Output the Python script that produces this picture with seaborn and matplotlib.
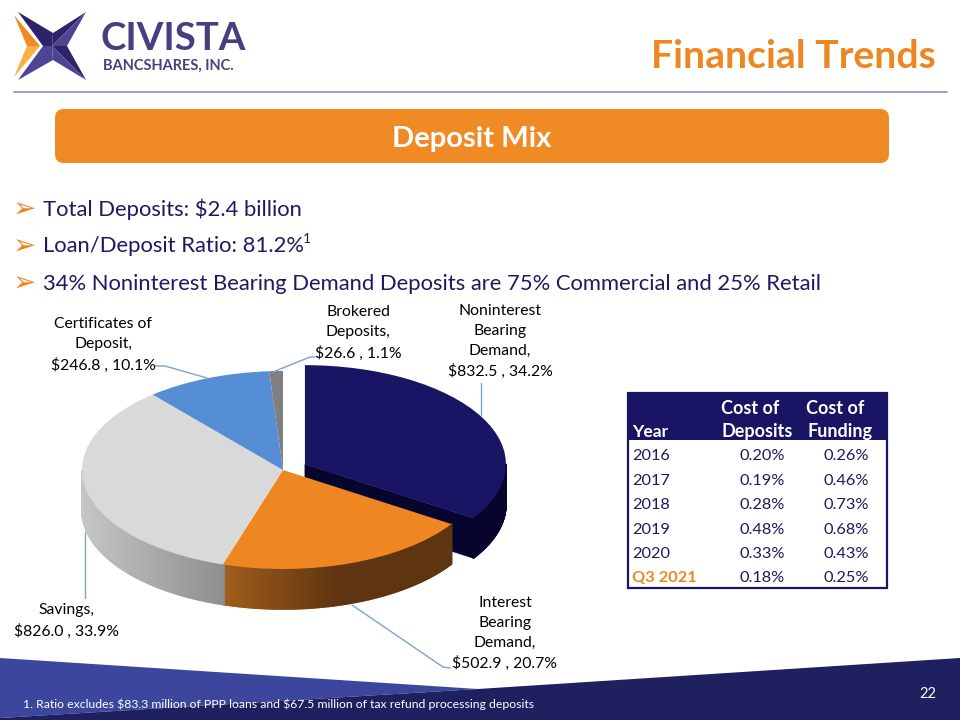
import numpy as np
import matplotlib
matplotlib.use("Agg")
import matplotlib.pyplot as plt
import seaborn as sns
from matplotlib.collections import PolyCollection
from matplotlib.patches import FancyBboxPatch, Polygon, Rectangle

# pie data ($ millions)
slice_names = ["Noninterest\nBearing\nDemand", "Interest\nBearing\nDemand", "Savings",
               "Certificates of\nDeposit", "Brokered\nDeposits"]
slice_values = [832.5, 502.9, 826.0, 246.8, 26.6]
slice_explode = [0.124, 0, 0, 0, 0]
slice_colors = ["#191464", "#ee8722", "#d9d9d9", "#558ed5", "#7f7f7f"]

# table data
table_years = ["2016", "2017", "2018", "2019", "2020", "Q3 2021"]
cost_deposits = ["0.20%", "0.19%", "0.28%", "0.48%", "0.33%", "0.18%"]
cost_funding = ["0.26%", "0.46%", "0.73%", "0.68%", "0.43%", "0.25%"]

bullets = ["Total Deposits: $2.4 billion", "Loan/Deposit Ratio: 81.2%",
           "34% Noninterest Bearing Demand Deposits are 75% Commercial and 25% Retail"]

navy = "#191464"
band = "#1f2060"
orange = "#ee8722"
text_blue = "#1c1a62"
leader = "#7fa3c7"

sns.set_theme(style="white")
plt.rcParams["font.family"] = ["Lato", "DejaVu Sans"]
palette = sns.color_palette(slice_colors)

fig = plt.figure(figsize=(9.6, 7.2), dpi=100, facecolor="white")

# page axes, one data unit = one pixel
ax = fig.add_axes([0, 0, 1, 1])
ax.set_xlim(0, 960)
ax.set_ylim(720, 0)
ax.axis("off")

###############################################
# LOGO + HEADER
###############################################
star_dark = "#2e2369"
star_mid = "#4d4594"
logo_parts = [
    ([(18, 12), (53, 33), (52, 46), (43, 46)], star_dark),
    ([(53, 33), (86, 12), (52, 46)], star_dark),
    ([(86, 12), (67, 46), (52, 46)], star_mid),
    ([(67, 46), (86, 80), (52, 46)], star_dark),
    ([(86, 80), (53, 60), (52, 46)], star_mid),
    ([(53, 60), (18, 80), (43, 46), (52, 46)], star_mid),
    ([(14, 15), (40, 46), (27, 46)], "#f08a24"),
    ([(27, 46), (40, 46), (14, 77)], "#fbb040"),
]
for pts, col in logo_parts:
    ax.add_patch(Polygon(pts, closed=True, facecolor=col, edgecolor="none"))
ax.text(100, 39, "CIVISTA", fontsize=27.6, fontweight="bold", color="#46407f", va="center", ha="left")
ax.text(103, 65.5, "BANCSHARES, INC.", fontsize=10.5, fontweight="bold", color="#46407f", va="center", ha="left")

ax.text(936, 57, "Financial Trends", fontsize=28.2, fontweight="bold", color=orange, va="center", ha="right")
ax.plot([14, 947], [92, 92], color="#8a90c0", lw=1.2)

ax.add_patch(FancyBboxPatch((55, 109), 834, 54, boxstyle="round,pad=0,rounding_size=9", mutation_scale=1,
                            facecolor="#f08a24", edgecolor="none"))
ax.text(472, 138.5, "Deposit Mix", fontsize=21, fontweight="bold", color="white", va="center", ha="center")

for i, line in enumerate(bullets):
    y = 209.5 + i * 37
    ax.text(13, y, "\u27a2", fontsize=20, color=orange, va="center", ha="left", family="DejaVu Sans")
    ax.text(43, y, line, fontsize=15.8, color=text_blue, va="center", ha="left", parse_math=False)
ax.text(303, 239, "1", fontsize=10, color=text_blue, va="center", ha="left")

###############################################
# FOOTER BAND
###############################################
ax.add_patch(Polygon([(0, 658), (478, 689), (0, 718)], closed=True, facecolor="#3c469c", edgecolor="none"))
ax.add_patch(Polygon([(0, 718), (478, 689), (960, 658), (960, 720), (0, 720)], closed=True,
                     facecolor=band, edgecolor="none"))
ax.text(23, 704, "1. Ratio excludes $83.3 million of PPP loans and $67.5 million of tax refund processing deposits",
        fontsize=8.85, color="white", va="center", ha="left", parse_math=False)
ax.text(928, 694, "22", fontsize=10.5, color="white", va="center", ha="center")

###############################################
# 3D LOOKING PIE
###############################################
# ellipse 201 x 99 px centred on (283, 470), wall 40 px high
pie_cx, pie_cy, rx, ry, wall_px = 283, 470, 201, 99, 40
wall = wall_px / ry
pax = fig.add_axes([0, 0, 1, 1], facecolor="none")
wedges, _ = pax.pie(slice_values, explode=slice_explode, colors=palette, startangle=90, counterclock=False,
                    wedgeprops={"linewidth": 0, "zorder": 5})
pax.set_aspect("auto")
pax.set_xlim(-pie_cx / rx, (960 - pie_cx) / rx)
pax.set_ylim((pie_cy - 720) / ry, pie_cy / ry)
pax.axis("off")


def wall_color(name, px):
    # px is the x position on the page, the side walls get darker to the right
    if name == 0:
        return matplotlib.colors.to_rgb("#07052e")
    if name == 1:
        t = np.clip((px - 223) / 117, 0, 1)
        a, b = "#a05e1c", "#5f3410"
    else:
        t = np.clip((px - 82) / 141, 0, 1)
        a, b = "#c6c6c6", "#8f8f8f"
    a, b = np.array(matplotlib.colors.to_rgb(a)), np.array(matplotlib.colors.to_rgb(b))
    return tuple(a + (b - a) * t)


for i, w in enumerate(wedges):
    cx, cy = w.center
    angles = np.radians(np.arange(w.theta1, w.theta2 + 0.5, 0.5))
    angles = angles[np.sin(angles) <= 0]
    if len(angles) < 2:
        continue
    xs = cx + np.cos(angles)
    ys = cy + np.sin(angles)
    quads = []
    cols = []
    for j in range(len(xs) - 1):
        quads.append([(xs[j], ys[j]), (xs[j + 1], ys[j + 1]), (xs[j + 1], ys[j + 1] - wall), (xs[j], ys[j] - wall)])
        cols.append(wall_color(i, pie_cx + xs[j] * rx))
    pax.add_collection(PolyCollection(quads, facecolors=cols, edgecolors=cols, linewidths=1.2, zorder=2 if i == 0 else 3))
    if slice_explode[i] > 0:
        # the cut face of the pulled out slice
        pax.add_patch(Polygon([(cx, cy), (xs[0], ys[0]), (xs[0], ys[0] - wall), (cx, cy - wall)], closed=True,
                              facecolor=cols[0], edgecolor=cols[0], lw=0.4, zorder=2))

###############################################
# PIE LABELS
###############################################
total = sum(slice_values)
label_pos = [(500, 341.5), (505, 633.5), (66, 621), (103, 345), (358, 333)]
for name, val, (lx, ly) in zip(slice_names, slice_values, label_pos):
    ax.text(lx, ly, f"{name},\n${val:.1f} , {val / total * 100:.1f}%", fontsize=11.3, color="black",
            ha="center", va="center", linespacing=1.52, zorder=8, parse_math=False)

leaders = [
    ([481, 481], [383, 415]),
    ([352, 443, 450], [605, 667, 668]),
    ([85, 85], [532, 598]),
    ([155, 165, 207], [366, 366, 378]),
    ([273, 310, 315], [372, 357, 357]),
]
for lx, ly in leaders:
    ax.plot(lx, ly, color=leader, lw=1)

###############################################
# TABLE
###############################################
ax.add_patch(Rectangle((628, 393), 259, 47, facecolor=navy, edgecolor="none"))
ax.add_patch(Rectangle((628, 393), 259, 195, facecolor="none", edgecolor=navy, lw=1.6))
ax.text(632, 432, "Year", fontsize=12.5, fontweight="bold", color="white", va="center", ha="left")
ax.text(750, 408, "Cost of", fontsize=13, fontweight="bold", color="white", va="center", ha="center")
ax.text(757.5, 432, "Deposits", fontsize=13, fontweight="bold", color="white", va="center", ha="center")
ax.text(835.5, 408, "Cost of", fontsize=13, fontweight="bold", color="white", va="center", ha="center")
ax.text(840, 432, "Funding", fontsize=13, fontweight="bold", color="white", va="center", ha="center")
for i, (yr, dep, fund) in enumerate(zip(table_years, cost_deposits, cost_funding)):
    y = 456.5 + i * 24.4
    last = yr == table_years[-1]
    ax.text(632, y, yr, fontsize=11.8, color=orange if last else text_blue,
            fontweight="bold" if last else "normal", va="center", ha="left")
    ax.text(785, y, dep, fontsize=11.8, color=text_blue, va="center", ha="right")
    ax.text(869, y, fund, fontsize=11.8, color=text_blue, va="center", ha="right")

pax.set_zorder(1)
ax.set_zorder(2)
ax.patch.set_alpha(0)

fig.savefig("out.png", dpi=100)
